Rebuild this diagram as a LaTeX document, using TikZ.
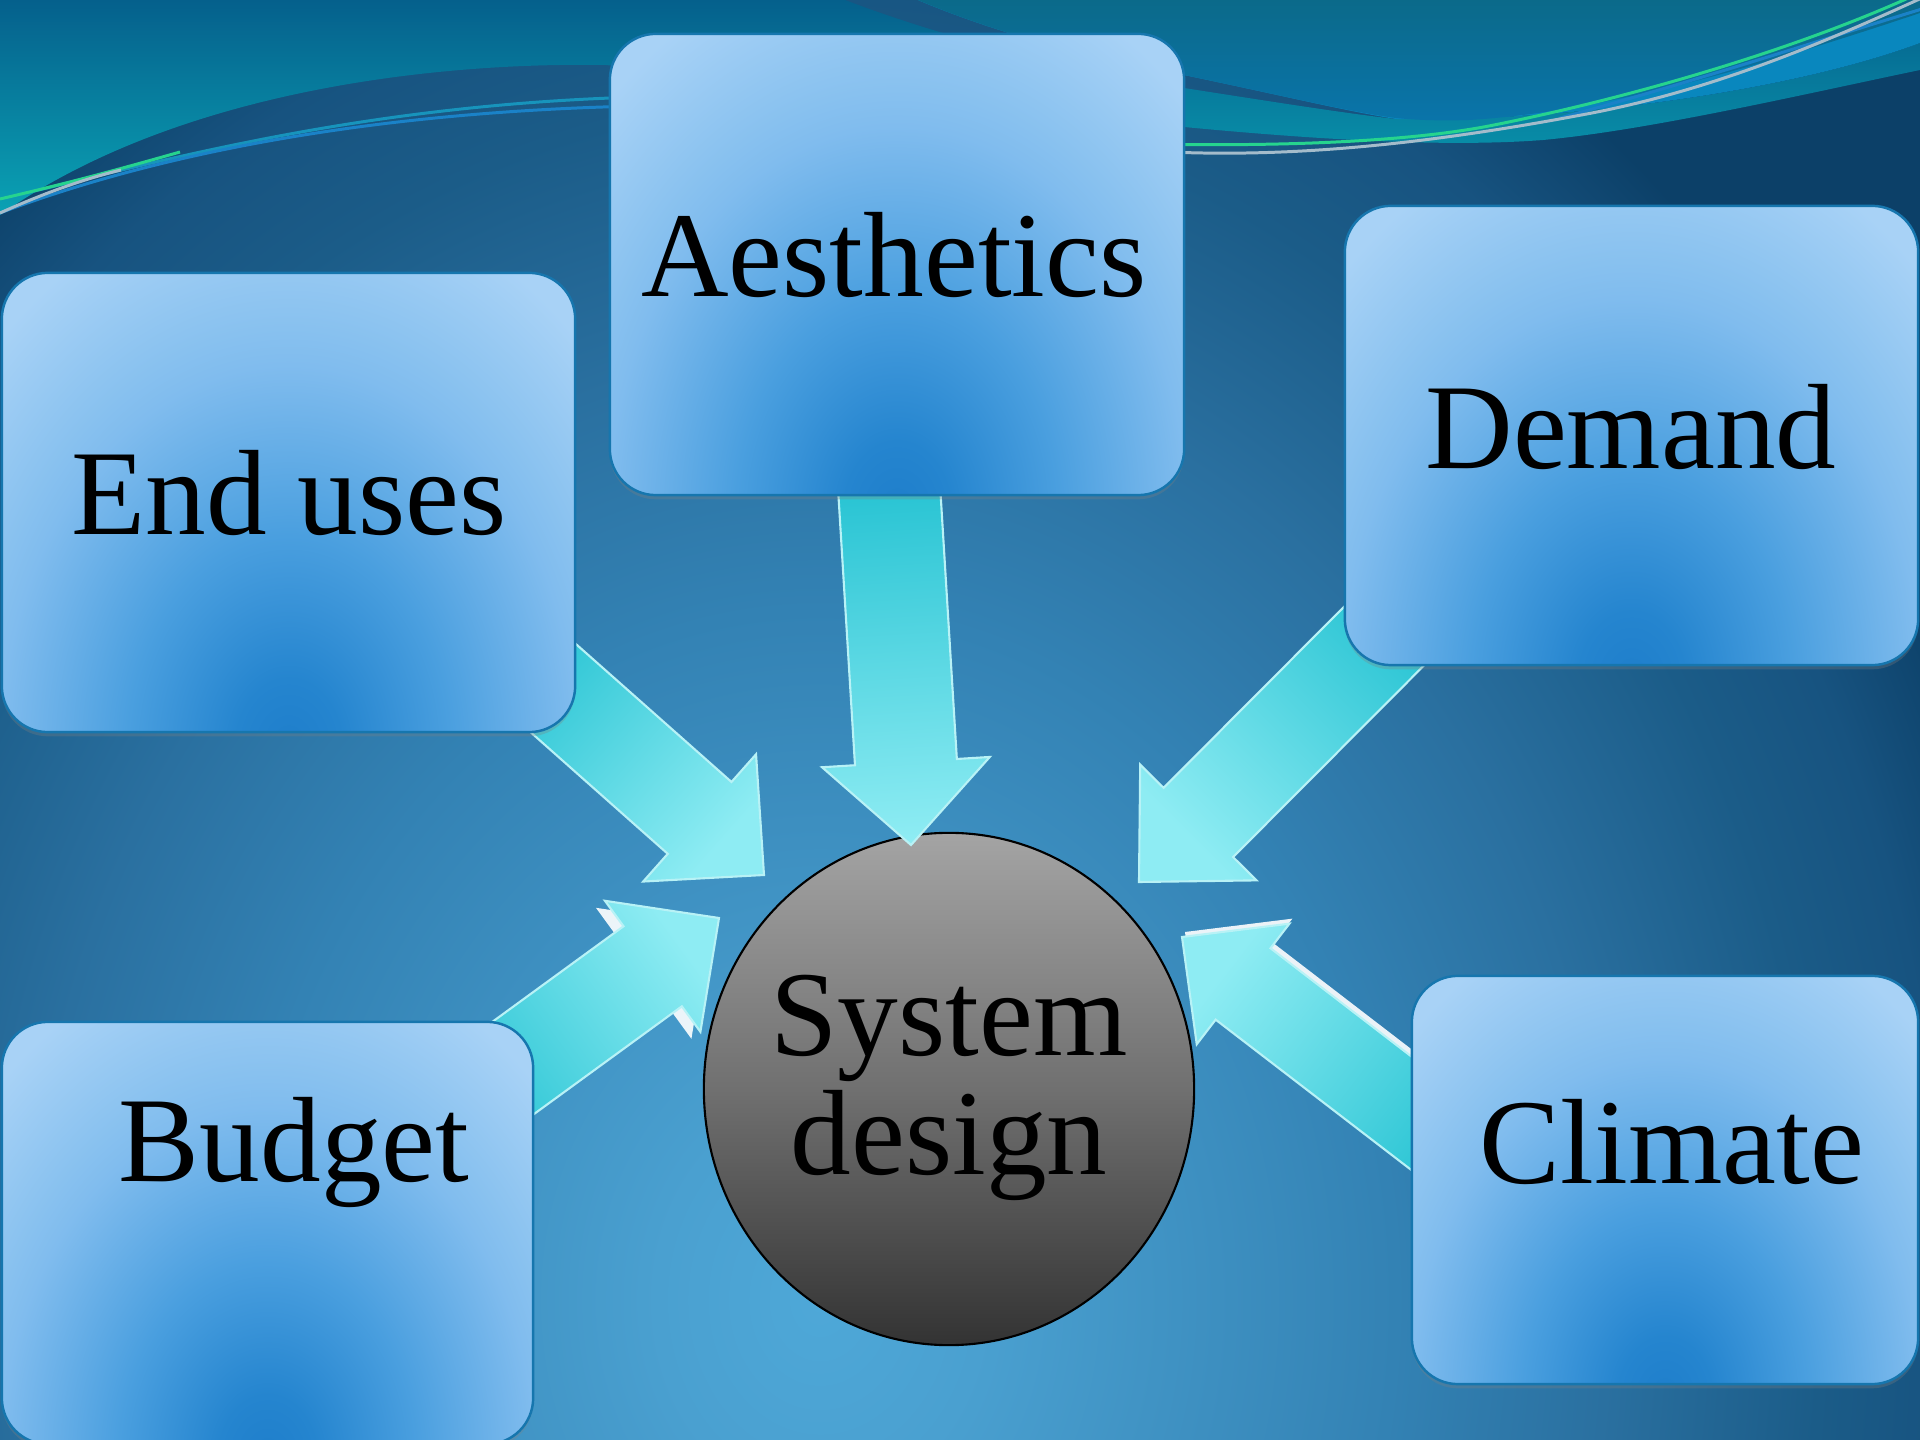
\documentclass[tikz,border=0pt]{standalone}
\usepackage{fontspec}
\setmainfont{Liberation Serif}
\usetikzlibrary{calc,shapes.geometric,shadows}

% background glow
\definecolor{bg0}{HTML}{4EA8D8}
\definecolor{bg1}{HTML}{4AA0D0}
\definecolor{bg2}{HTML}{3382B4}
\definecolor{bg3}{HTML}{2A70A0}
\definecolor{bg4}{HTML}{1B5C88}
\definecolor{bg5}{HTML}{175380}
\definecolor{bg6}{HTML}{0C4068}
% boxes
\definecolor{bx0}{HTML}{1E7ECB}
\definecolor{bx1}{HTML}{2585CF}
\definecolor{bx2}{HTML}{4A9FDF}
\definecolor{bx3}{HTML}{80BCEE}
\definecolor{bx4}{HTML}{88C1EF}
\definecolor{bx5}{HTML}{A8D2F6}
\definecolor{boxedge}{HTML}{1676AE}
% arrows
\definecolor{arrtail}{HTML}{24C2D2}
\definecolor{arrtip}{HTML}{8EECF3}
\definecolor{arredge}{HTML}{B8F2F6}
% waves
\definecolor{wtealtop}{HTML}{05608C}
\definecolor{wtealbot}{HTML}{0AA2B4}
\definecolor{wblue}{HTML}{0987BE}
\definecolor{wtoptop}{HTML}{0B6A8A}
\definecolor{wtopbot}{HTML}{0A74AA}
\definecolor{lgreen}{HTML}{26D48E}
\definecolor{lgray}{HTML}{A4BCCB}
\definecolor{lblue}{HTML}{1A82C8}
\definecolor{lteal}{HTML}{1794BC}
% sphere
\definecolor{sphtop}{HTML}{A4A4A4}
\definecolor{sphmid}{HTML}{707070}
\definecolor{sphbot}{HTML}{333333}

% radius 25bp corresponds to the edge of the shaded path
\pgfdeclareradialshading{bgglow}{\pgfpoint{0bp}{0bp}}{%
  color(0bp)=(bg0); color(3.25bp)=(bg1); color(11.5bp)=(bg2); color(15.75bp)=(bg3);
  color(20bp)=(bg4); color(22.5bp)=(bg5); color(25bp)=(bg6); color(50bp)=(bg6)}
\pgfdeclareradialshading{boxglow}{\pgfpoint{0bp}{0bp}}{%
  color(0bp)=(bx0); color(3bp)=(bx1); color(9bp)=(bx2); color(16.15bp)=(bx3);
  color(17.7bp)=(bx4); color(23.65bp)=(bx5); color(50bp)=(bx5)}

% block arrow: tail, tip, shaft half width, head half width, head length, style
\newcommand\blockarrow[6]{%
  \coordinate (ba-n) at ($(#2)!#5!(#1)$);
  \path[#6] ($(#1)!#3!90:(#2)$) -- ($(ba-n)!#3!90:(#2)$) -- ($(ba-n)!#4!90:(#2)$)
    -- (#2) -- ($(ba-n)!#4!-90:(#2)$) -- ($(ba-n)!#3!-90:(#2)$)
    -- ($(#1)!#3!-90:(#2)$) -- cycle;
}

\begin{document}
\begin{tikzpicture}[x=0.01cm, y=-0.01cm,
  panel/.style={rectangle, rounded corners=0.46cm, inner sep=0pt,
    draw=boxedge, line width=0.7pt,
    drop shadow={opacity=0.3, shadow xshift=0pt, shadow yshift=-1.2pt},
    path picture={
      \path (path picture bounding box.south west) coordinate (pp1)
            (path picture bounding box.north east) coordinate (pp2);
      \shade[shading=boxglow] let \p1=(pp1), \p2=(pp2) in
        (\x1/2+\x2/2, 1.04*\y1-0.04*\y2)
        ellipse [x radius={0.78*(\x2-\x1)}, y radius={1.3*(\y2-\y1)}];
    }},
  lbl/.style={font=\fontsize{34.5}{34}\selectfont, text=black, inner sep=0pt, anchor=base},
  arrowbody/.style={top color=arrtail, bottom color=arrtip, draw=arredge,
    line width=0.6pt, line join=miter},
  glint/.style={fill=white, fill opacity=0.9},
  wline/.style={line width=0.85pt}
]
\useasboundingbox (0,0) rectangle (1920,1440);
\clip (0,0) rectangle (1920,1440);

% ---------- background ----------
\fill[bg6] (0,0) rectangle (1920,1440);
\shade[shading=bgglow] (820,1300) ellipse [x radius=12.5cm, y radius=15cm];

% ---------- waves along the top ----------
\shade[top color=wtealtop, bottom color=wtealbot]
  (0,0) -- (845,0) .. controls (950,40) and (1080,72) .. (1184,88)
  .. controls (1280,103) and (1350,114) .. (1396,119)
  .. controls (1550,122) and (1780,95) .. (1920,43)
  -- (1920,70) .. controls (1800,95) and (1650,130) .. (1543,140)
  .. controls (1440,148) and (1300,138) .. (1184,127)
  -- (1000,110) -- (606,65)
  .. controls (420,62) and (170,95) .. (0,215) -- cycle;
\fill[wblue]
  (918,0) -- (1920,0) -- (1920,43)
  .. controls (1780,95) and (1550,122) .. (1396,119)
  .. controls (1350,112) and (1280,95) .. (1184,75)
  .. controls (1100,60) and (1000,35) .. (918,0) -- cycle;
\shade[top color=wtoptop, bottom color=wtopbot]
  (918,0) -- (1920,0) -- (1920,13)
  .. controls (1750,70) and (1600,112) .. (1469,120)
  .. controls (1440,121) and (1415,120) .. (1396,118)
  .. controls (1350,112) and (1280,95) .. (1184,75)
  .. controls (1100,60) and (1000,35) .. (918,0) -- cycle;

% thin lines, left part
\draw[wline, lteal] (0,199) .. controls (150,165) and (350,105) .. (640,97);
\draw[wline, lblue] (0,213) .. controls (140,160) and (350,112) .. (640,106);
\draw[wline, lgreen] (0,199) .. controls (60,185) and (110,172) .. (180,152);
\draw[wline, lgray] (0,213) .. controls (40,195) and (80,180) .. (121,170);
% thin lines, right part
\draw[wline, lblue] (1560,118) .. controls (1700,80) and (1820,40) .. (1935,5);
\draw[wline, lgray] (1150,151) .. controls (1300,160) and (1450,140) .. (1592,113)
  .. controls (1720,88) and (1830,40) .. (1935,-8);
\draw[wline, lgreen] (1150,144) .. controls (1300,147) and (1420,140) .. (1494,125)
  .. controls (1620,100) and (1800,50) .. (1930,-12);

% ---------- central sphere ----------
\node[ellipse, draw=black, line width=0.6pt, inner sep=0pt,
  minimum width=4.9cm, minimum height=5.12cm,
  top color=sphtop, bottom color=sphbot, middle color=sphmid] (sys) at (949,1089) {};

% ---------- arrows ----------
\coordinate (aesA) at (888,470);   \coordinate (aesP) at (911,845);
\coordinate (endA) at (508,648);   \coordinate (endP) at (764,875);
\coordinate (demA) at (1420,600);  \coordinate (demP) at (1139,882);
\coordinate (budA) at (450,1114);  \coordinate (budP) at (719,918);
\coordinate (cliA) at (1480,1166); \coordinate (cliP) at (1182,937);
\coordinate (budAw) at (441,1121); \coordinate (budPw) at (710,925);
\coordinate (cliAw) at (1483,1161);\coordinate (cliPw) at (1185,932);

\blockarrow{budAw}{budPw}{0.495cm}{0.81cm}{0.82cm}{glint}
\blockarrow{cliAw}{cliPw}{0.45cm}{0.76cm}{0.77cm}{glint}

\blockarrow{aesA}{aesP}{0.51cm}{0.84cm}{0.83cm}{arrowbody, shading angle=3.4}
\blockarrow{endA}{endP}{0.48cm}{0.85cm}{0.86cm}{arrowbody, shading angle=48.5}
\blockarrow{demA}{demP}{0.49cm}{0.82cm}{0.84cm}{arrowbody, shading angle=-44.9}
\blockarrow{budA}{budP}{0.495cm}{0.81cm}{0.82cm}{arrowbody, shading angle=126.1}
\blockarrow{cliA}{cliP}{0.45cm}{0.76cm}{0.77cm}{arrowbody, shading angle=232.5}

% ---------- boxes ----------
\node[panel, minimum width=5.74cm, minimum height=4.61cm] (aes) at (897,264.5) {};
\node[panel, minimum width=5.73cm, minimum height=4.59cm] (end) at (288.5,502.5) {};
\node[panel, minimum width=5.73cm, minimum height=4.59cm] (dem) at (1631.5,435.5) {};
\node[panel, minimum width=5.31cm, minimum height=4.22cm] (bud) at (267.5,1233) {};
\node[panel, minimum width=5.06cm, minimum height=4.08cm] (cli) at (1665,1180) {};

% ---------- labels ----------
\node[lbl] (aesT) at (894,297) {Aesthetics};
\node[lbl] (endT) at (289,535) {End uses};
\node[lbl] (demT) at (1631,469) {Demand};
\node[lbl] (budT) at (294,1182) {Budget};
\node[lbl] (cliT) at (1672,1184) {Climate};
\node[lbl] (sysT1) at (949,1056) {System};
\node[lbl] (sysT2) at (949,1175) {design};
\end{tikzpicture}
\end{document}
